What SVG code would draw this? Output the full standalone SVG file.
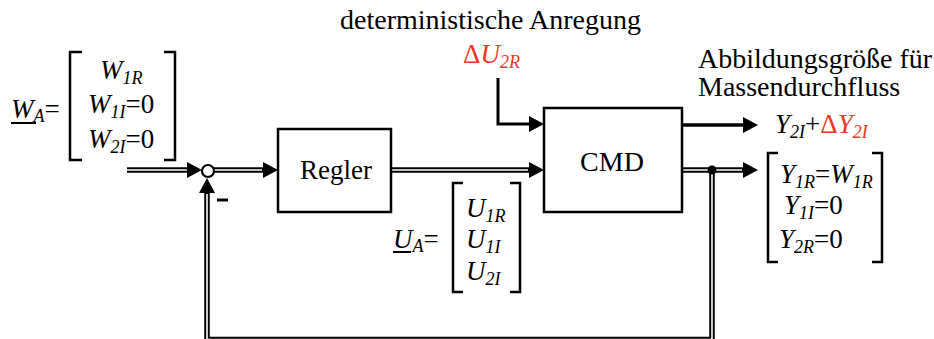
<svg xmlns="http://www.w3.org/2000/svg" width="934" height="339" viewBox="0 0 934 339" font-family="'Liberation Serif', 'Times New Roman', Times, serif">
<style>
text{font-family:'Liberation Serif','Times New Roman',Times,serif;font-size:27px;fill:#000}
.lbl{font-size:28px}
.i{font-style:italic}
.s{font-style:italic;font-size:18px}
.red{fill:#EE3524}
.box{fill:#fff;stroke:#000;stroke-width:2.5}
.br{fill:none;stroke:#000;stroke-width:2.5}
.do{fill:none;stroke:#000;stroke-width:5.5}
.di{fill:none;stroke:#fff;stroke-width:1.6}
.sl{fill:none;stroke:#000;stroke-width:3}
.ah{fill:#000}
</style>
<defs>
<path id="arr" d="M0,0 L-15,-8 L-15,8 Z"/>
</defs>
<g id="connectors">
<path class="do" d="M127,170 H196"/><path class="di" d="M127,170 H190"/>
<use href="#arr" class="ah" transform="translate(202,170)"/>
<path class="do" d="M214,170 H266"/><path class="di" d="M214,170 H262"/>
<use href="#arr" class="ah" transform="translate(278,170)"/>
<path class="do" d="M391,170 H532"/><path class="di" d="M391,170 H528"/>
<use href="#arr" class="ah" transform="translate(544,170)"/>
<path class="sl" d="M498,78 V124 H532"/>
<use href="#arr" class="ah" transform="translate(544,124)"/>
<path class="sl" d="M682,125 H746" style="stroke-width:3.5"/>
<use href="#arr" class="ah" transform="translate(758,125)"/>
<path class="do" d="M682,170 H746"/><path class="di" d="M682,170 H742"/>
<use href="#arr" class="ah" transform="translate(758,170)"/>
<path class="do" d="M712,170 V339.5 H207 V190"/><path class="di" d="M712,170 V339.5 H207 V194"/>
<use href="#arr" class="ah" transform="translate(207,178) rotate(-90)"/>
<circle cx="712" cy="170" r="4.5" fill="#000"/>
</g>
<g id="sum">
<circle cx="208" cy="171" r="6" fill="#fff" stroke="#000" stroke-width="2.2"/>
<path d="M217,200 H228" stroke="#000" stroke-width="3"/>
</g>
<g id="regler">
<rect class="box" x="278" y="129" width="113" height="83"/>
<text x="336" y="179" text-anchor="middle">Regler</text>
</g>
<g id="cmd">
<rect class="box" x="544" y="108" width="138" height="104"/>
<text x="612" y="171" text-anchor="middle" style="font-size:28px">CMD</text>
</g>
<g id="wa">
<text x="11" y="118"><tspan class="i">W</tspan><tspan class="s" dy="4">A</tspan><tspan dy="-4">=</tspan></text>
<path d="M11,123 H36" stroke="#000" stroke-width="2"/>
<path class="br" d="M82,52 H70 V160 H82 M164,52 H175 V160 H164"/>
<text x="100" y="79"><tspan class="i">W</tspan><tspan class="s" dy="5">1R</tspan></text>
<text x="88" y="113"><tspan class="i">W</tspan><tspan class="s" dy="5">1I</tspan><tspan dy="-5">=0</tspan></text>
<text x="88" y="148"><tspan class="i">W</tspan><tspan class="s" dy="5">2I</tspan><tspan dy="-5">=0</tspan></text>
</g>
<g id="ua">
<text x="393" y="248"><tspan class="i">U</tspan><tspan class="s" dy="4">A</tspan><tspan dy="-4">=</tspan></text>
<path d="M393,252 H411" stroke="#000" stroke-width="2"/>
<path class="br" d="M463,183 H453 V292 H463 M510,183 H520 V292 H510"/>
<text x="466" y="217"><tspan class="i">U</tspan><tspan class="s" dy="5">1R</tspan></text>
<text x="466" y="248"><tspan class="i">U</tspan><tspan class="s" dy="5">1I</tspan></text>
<text x="466" y="280"><tspan class="i">U</tspan><tspan class="s" dy="5">2I</tspan></text>
</g>
<g id="anregung">
<text x="340" y="29" class="lbl">deterministische Anregung</text>
<text x="463" y="63" class="red">Δ<tspan class="i">U</tspan><tspan class="s" dy="5">2R</tspan></text>
</g>
<g id="abbildung">
<text x="698" y="68" class="lbl">Abbildungsgröße für</text>
<text x="698" y="96" class="lbl">Massendurchfluss</text>
<text x="775" y="133"><tspan class="i">Y</tspan><tspan class="s" dy="5">2I</tspan><tspan dy="-5">+</tspan><tspan class="red">Δ</tspan><tspan class="i red">Y</tspan><tspan class="s red" dy="5">2I</tspan></text>
</g>
<g id="ya">
<path class="br" d="M778,153 H768 V262 H778 M872,153 H882 V262 H872"/>
<text x="780" y="183"><tspan class="i">Y</tspan><tspan class="s" dy="5">1R</tspan><tspan dy="-5">=</tspan><tspan class="i">W</tspan><tspan class="s" dy="5">1R</tspan></text>
<text x="784" y="214"><tspan class="i">Y</tspan><tspan class="s" dy="5">1I</tspan><tspan dy="-5">=0</tspan></text>
<text x="779" y="248"><tspan class="i">Y</tspan><tspan class="s" dy="5">2R</tspan><tspan dy="-5">=0</tspan></text>
</g>
</svg>
